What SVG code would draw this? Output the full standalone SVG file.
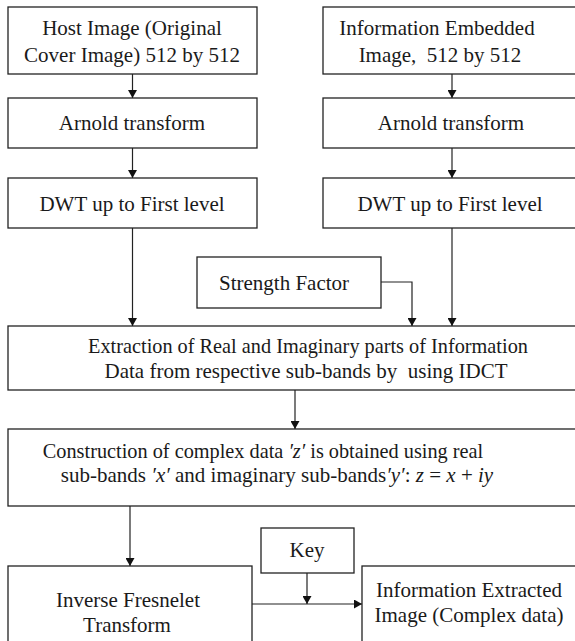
<svg xmlns="http://www.w3.org/2000/svg" width="575" height="641" viewBox="0 0 575 641">
<style>
.box{fill:#fff;stroke:#222;stroke-width:1.3}
.t{font-family:'Liberation Serif','Times New Roman',serif;font-size:21px;fill:#1a1a1a;text-anchor:middle}
.s{font-size:20.3px}
.p{white-space:pre}
.m{font-style:italic}
.c{fill:none;stroke:#222;stroke-width:1.2}
</style>
<defs>
<marker id="ah" markerUnits="userSpaceOnUse" markerWidth="8" markerHeight="9" refX="8" refY="4.5" orient="auto">
<path d="M0,0 L8,4.5 L0,9 Z" fill="#111"/>
</marker>
</defs>
<rect width="575" height="641" fill="#fff"/>
<g id="connectors">
<line class="c" x1="132.5" y1="74" x2="132.5" y2="98" marker-end="url(#ah)"/>
<line class="c" x1="132.5" y1="148" x2="132.5" y2="178" marker-end="url(#ah)"/>
<line class="c" x1="132.5" y1="228" x2="132.5" y2="326" marker-end="url(#ah)"/>
<line class="c" x1="452" y1="74" x2="452" y2="98" marker-end="url(#ah)"/>
<line class="c" x1="452" y1="148" x2="452" y2="178" marker-end="url(#ah)"/>
<line class="c" x1="452" y1="228" x2="452" y2="326" marker-end="url(#ah)"/>
<polyline class="c" points="381,282 412,282 412,326" marker-end="url(#ah)"/>
<line class="c" x1="295" y1="390" x2="295" y2="429" marker-end="url(#ah)"/>
<line class="c" x1="130" y1="506" x2="130" y2="566" marker-end="url(#ah)"/>
<line class="c" x1="252" y1="604" x2="362" y2="604" marker-end="url(#ah)"/>
<line class="c" x1="307" y1="573" x2="307" y2="604" marker-end="url(#ah)"/>
</g>
<g id="host">
<rect class="box" x="8" y="7" width="249" height="67"/>
<text class="t" x="132" y="35">Host Image (Original</text>
<text class="t" x="132" y="62">Cover Image) 512 by 512</text>
</g>
<g id="arnold-left">
<rect class="box" x="8" y="98" width="249" height="50"/>
<text class="t" x="132" y="130">Arnold transform</text>
</g>
<g id="dwt-left">
<rect class="box" x="8" y="178" width="249" height="50"/>
<text class="t" x="132" y="211">DWT up to First level</text>
</g>
<g id="embedded">
<rect class="box" x="323" y="7" width="260" height="67"/>
<text class="t" x="437" y="35">Information Embedded</text>
<text class="t p" x="440" y="62">Image,  512 by 512</text>
</g>
<g id="arnold-right">
<rect class="box" x="323" y="98" width="260" height="50"/>
<text class="t" x="451" y="130">Arnold transform</text>
</g>
<g id="dwt-right">
<rect class="box" x="323" y="178" width="260" height="50"/>
<text class="t" x="450" y="211">DWT up to First level</text>
</g>
<g id="strength">
<rect class="box" x="197" y="257" width="184" height="51"/>
<text class="t" x="284" y="290">Strength Factor</text>
</g>
<g id="extraction">
<rect class="box" x="8" y="326" width="600" height="64"/>
<text class="t s" x="308" y="353">Extraction of Real and Imaginary parts of Information</text>
<text class="t p" x="306" y="378">Data from respective sub-bands by  using IDCT</text>
</g>
<g id="construction">
<rect class="box" x="8" y="429" width="600" height="77"/>
<text class="t s" x="263" y="458">Construction of complex data <tspan class="m">′z′</tspan> is obtained using real</text>
<text class="t" x="277" y="482">sub-bands <tspan class="m">′x′</tspan> and imaginary sub-bands<tspan class="m">′y′</tspan>: <tspan class="m">z</tspan> = <tspan class="m">x</tspan> + <tspan class="m">iy</tspan></text>
</g>
<g id="fresnelet">
<rect class="box" x="8" y="566" width="244" height="90"/>
<text class="t" x="128" y="607">Inverse Fresnelet</text>
<text class="t" x="127" y="632">Transform</text>
</g>
<g id="key">
<rect class="box" x="261" y="528" width="93" height="45"/>
<text class="t" x="307" y="557">Key</text>
</g>
<g id="extracted">
<rect class="box" x="362" y="566" width="230" height="90"/>
<text class="t" x="469" y="597">Information Extracted</text>
<text class="t" x="469" y="622">Image (Complex data)</text>
</g>
</svg>
